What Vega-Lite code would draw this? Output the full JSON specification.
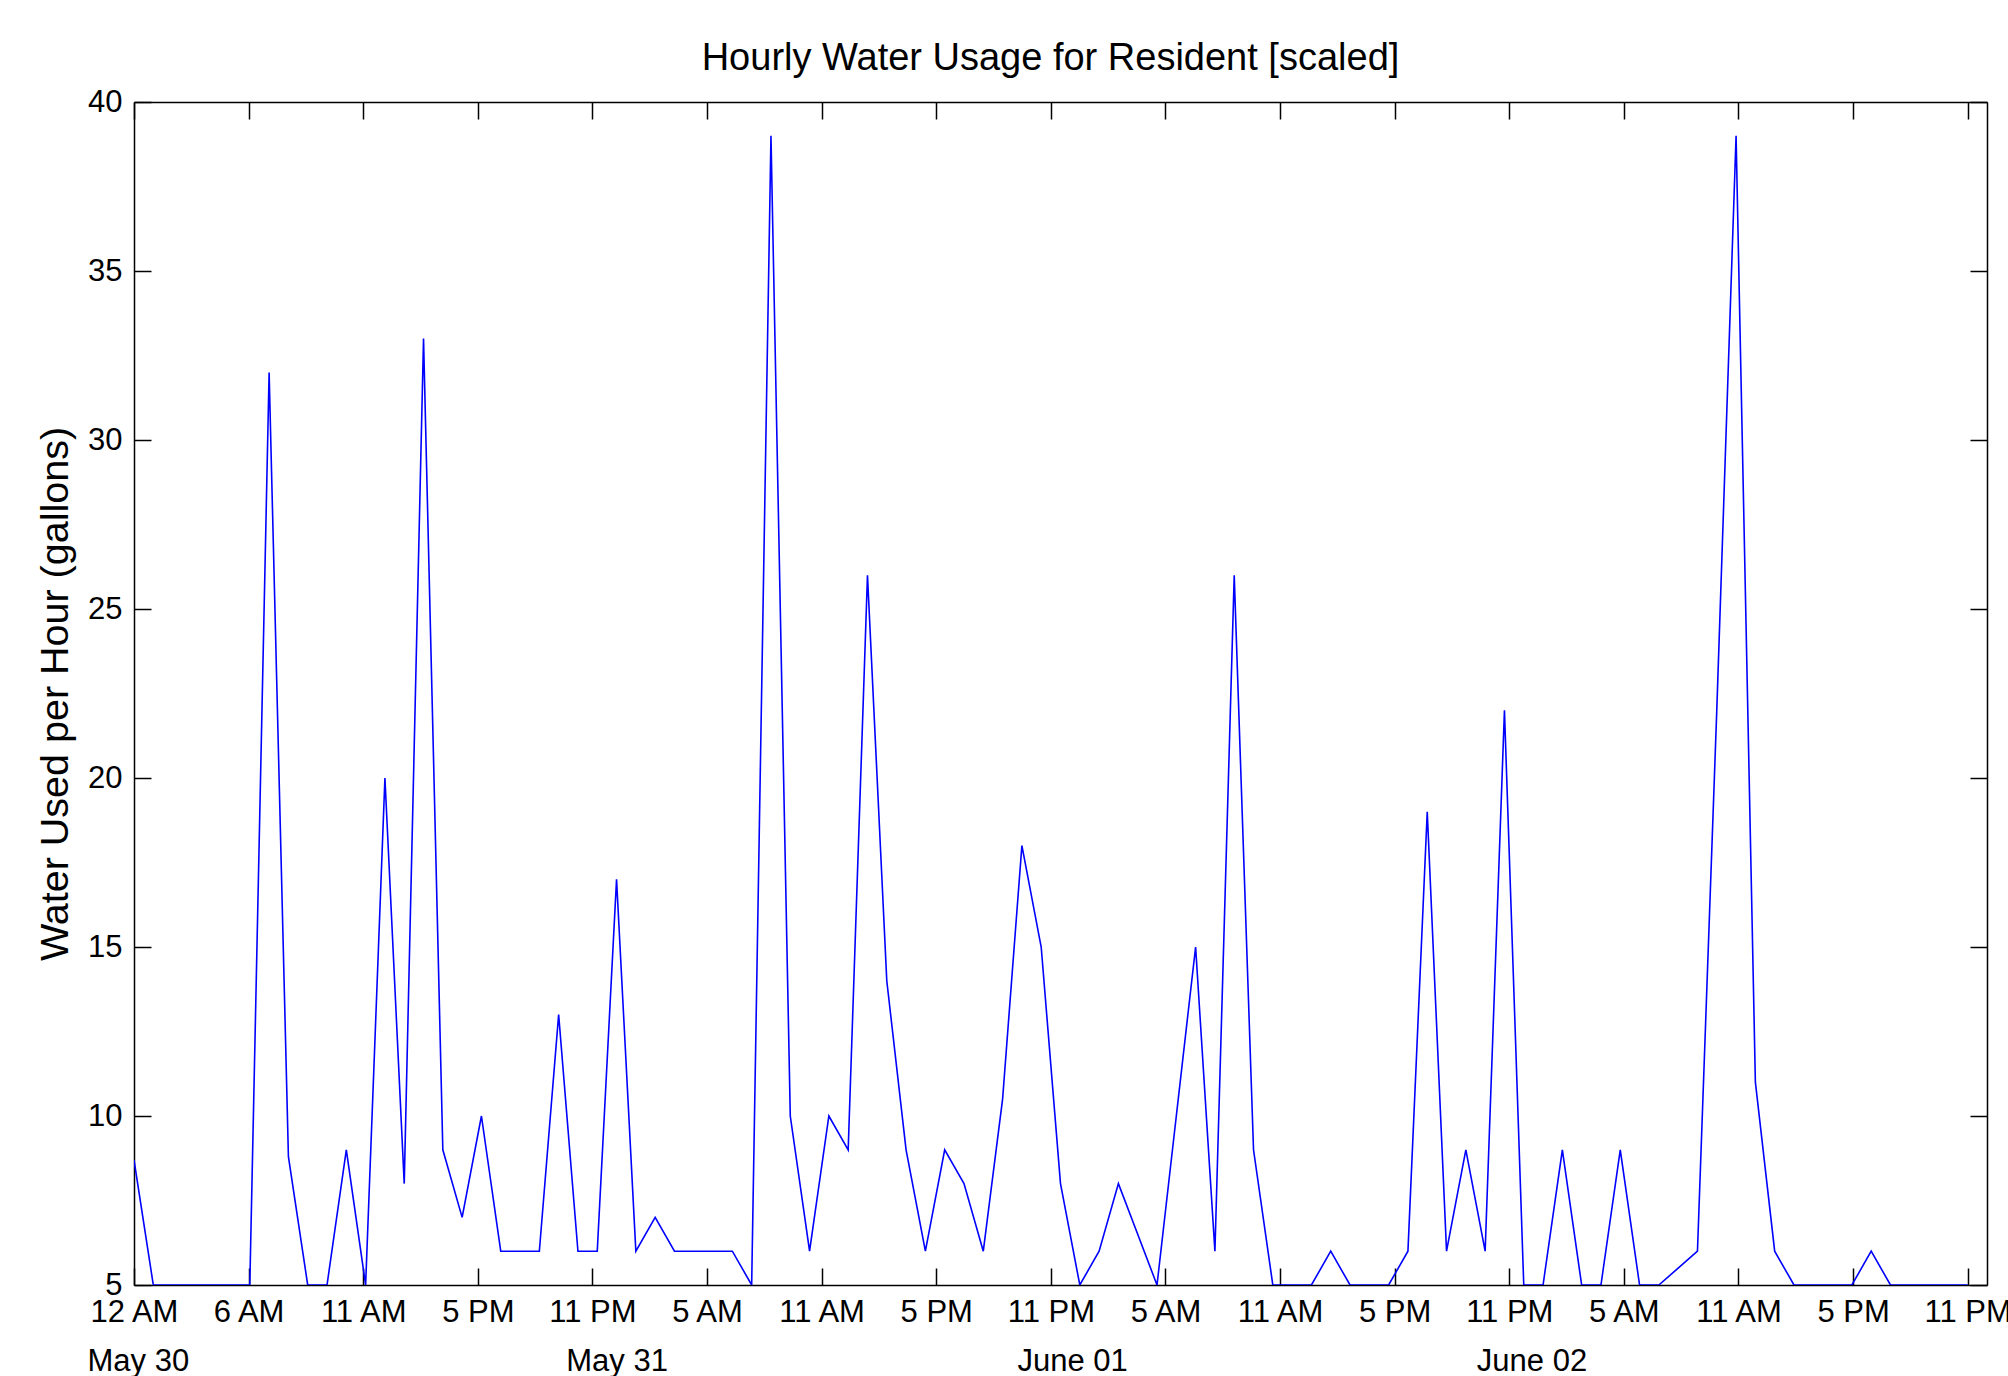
{
  "$schema": "https://vega.github.io/schema/vega-lite/v6.json",
  "width": 1853,
  "height": 1183,
  "autosize": {"type": "none"},
  "padding": {"left": 134, "top": 102, "right": 21, "bottom": 91},
  "background": "white",
  "title": {"text": "Hourly Water Usage for Resident [scaled]", "font": "Liberation Sans", "fontSize": 38, "fontWeight": "normal", "color": "black", "offset": 8, "anchor": "middle", "dx": -10},
  "config": {
    "view": {"stroke": null},
    "axis": {"grid": false, "domainColor": "black", "tickColor": "black", "labelColor": "black", "titleColor": "black", "labelFont": "Liberation Sans", "titleFont": "Liberation Sans", "labelFontSize": 31, "domainWidth": 1.5, "tickWidth": 1.5, "tickSize": -17, "labelOverlap": false, "labelFlush": false}
  },
  "data": {"values": [
    {"hour": 0, "gallons": 8.7}, {"hour": 1, "gallons": 5}, {"hour": 2, "gallons": 5}, {"hour": 3, "gallons": 5},
    {"hour": 4, "gallons": 5}, {"hour": 5, "gallons": 5}, {"hour": 6, "gallons": 5}, {"hour": 7, "gallons": 32},
    {"hour": 8, "gallons": 8.8}, {"hour": 9, "gallons": 5}, {"hour": 10, "gallons": 5}, {"hour": 11, "gallons": 9},
    {"hour": 12, "gallons": 5}, {"hour": 13, "gallons": 20}, {"hour": 14, "gallons": 8}, {"hour": 15, "gallons": 33},
    {"hour": 16, "gallons": 9}, {"hour": 17, "gallons": 7}, {"hour": 18, "gallons": 10}, {"hour": 19, "gallons": 6},
    {"hour": 20, "gallons": 6}, {"hour": 21, "gallons": 6}, {"hour": 22, "gallons": 13}, {"hour": 23, "gallons": 6},
    {"hour": 24, "gallons": 6}, {"hour": 25, "gallons": 17}, {"hour": 26, "gallons": 6}, {"hour": 27, "gallons": 7},
    {"hour": 28, "gallons": 6}, {"hour": 29, "gallons": 6}, {"hour": 30, "gallons": 6}, {"hour": 31, "gallons": 6},
    {"hour": 32, "gallons": 5}, {"hour": 33, "gallons": 39}, {"hour": 34, "gallons": 10}, {"hour": 35, "gallons": 6},
    {"hour": 36, "gallons": 10}, {"hour": 37, "gallons": 9}, {"hour": 38, "gallons": 26}, {"hour": 39, "gallons": 14},
    {"hour": 40, "gallons": 9}, {"hour": 41, "gallons": 6}, {"hour": 42, "gallons": 9}, {"hour": 43, "gallons": 8},
    {"hour": 44, "gallons": 6}, {"hour": 45, "gallons": 10.5}, {"hour": 46, "gallons": 18}, {"hour": 47, "gallons": 15},
    {"hour": 48, "gallons": 8}, {"hour": 49, "gallons": 5}, {"hour": 50, "gallons": 6}, {"hour": 51, "gallons": 8},
    {"hour": 52, "gallons": 6.5}, {"hour": 53, "gallons": 5}, {"hour": 54, "gallons": 10}, {"hour": 55, "gallons": 15},
    {"hour": 56, "gallons": 6}, {"hour": 57, "gallons": 26}, {"hour": 58, "gallons": 9}, {"hour": 59, "gallons": 5},
    {"hour": 60, "gallons": 5}, {"hour": 61, "gallons": 5}, {"hour": 62, "gallons": 6}, {"hour": 63, "gallons": 5},
    {"hour": 64, "gallons": 5}, {"hour": 65, "gallons": 5}, {"hour": 66, "gallons": 6}, {"hour": 67, "gallons": 19},
    {"hour": 68, "gallons": 6}, {"hour": 69, "gallons": 9}, {"hour": 70, "gallons": 6}, {"hour": 71, "gallons": 22},
    {"hour": 72, "gallons": 5}, {"hour": 73, "gallons": 5}, {"hour": 74, "gallons": 9}, {"hour": 75, "gallons": 5},
    {"hour": 76, "gallons": 5}, {"hour": 77, "gallons": 9}, {"hour": 78, "gallons": 5}, {"hour": 79, "gallons": 5},
    {"hour": 80, "gallons": 5.5}, {"hour": 81, "gallons": 6}, {"hour": 82, "gallons": 22}, {"hour": 83, "gallons": 39},
    {"hour": 84, "gallons": 11}, {"hour": 85, "gallons": 6}, {"hour": 86, "gallons": 5}, {"hour": 87, "gallons": 5},
    {"hour": 88, "gallons": 5}, {"hour": 89, "gallons": 5}, {"hour": 90, "gallons": 6}, {"hour": 91, "gallons": 5},
    {"hour": 92, "gallons": 5}, {"hour": 93, "gallons": 5}, {"hour": 94, "gallons": 5}, {"hour": 95, "gallons": 5}
  ]},
  "layer": [
    {
      "mark": {"type": "line", "color": "#0000ff", "strokeWidth": 1.6, "clip": true},
      "encoding": {
        "x": {"field": "hour", "type": "quantitative", "scale": {"domain": [0, 96], "nice": false, "zero": false},
          "axis": {"orient": "bottom", "title": null, "labelPadding": 29,
            "values": [0, 5.9375, 11.875, 17.8125, 23.75, 29.6875, 35.625, 41.5625, 47.5, 53.4375, 59.375, 65.3125, 71.25, 77.1875, 83.125, 89.0625, 95],
            "labelExpr": "['12 AM','6 AM','11 AM','5 PM','11 PM','5 AM','11 AM','5 PM','11 PM','5 AM','11 AM','5 PM','11 PM','5 AM','11 AM','5 PM','11 PM'][round(datum.value*16/95)]"}},
        "y": {"field": "gallons", "type": "quantitative", "scale": {"domain": [5, 40], "nice": false, "zero": false},
          "axis": {"orient": "left", "values": [5, 10, 15, 20, 25, 30, 35, 40], "labelPadding": 29, "title": "Water Used per Hour (gallons)", "titleFontSize": 39.5, "titleFontWeight": "normal", "titlePadding": 12}}
      }
    },
    {
      "mark": {"type": "line", "opacity": 0},
      "encoding": {
        "x": {"field": "hour", "type": "quantitative", "axis": {"orient": "top", "labels": false, "title": null, "values": [0, 5.9375, 11.875, 17.8125, 23.75, 29.6875, 35.625, 41.5625, 47.5, 53.4375, 59.375, 65.3125, 71.25, 77.1875, 83.125, 89.0625, 95]}},
        "y": {"field": "gallons", "type": "quantitative", "axis": {"orient": "right", "labels": false, "title": null, "values": [5, 10, 15, 20, 25, 30, 35, 40]}}
      }
    },
    {
      "mark": {"type": "point", "opacity": 0},
      "encoding": {
        "x": {"field": "hour", "type": "quantitative", "axis": {"orient": "bottom", "title": null, "domain": false, "ticks": false, "labelPadding": 61, "values": [0.2, 25, 48.6, 72.4],
          "labelExpr": "datum.value < 10 ? 'May 30' : datum.value < 30 ? 'May 31' : datum.value < 60 ? 'June 01' : 'June 02'"}},
        "y": {"field": "gallons", "type": "quantitative", "axis": null}
      }
    }
  ],
  "resolve": {"scale": {"x": "shared", "y": "shared"}, "axis": {"x": "independent", "y": "independent"}}
}
